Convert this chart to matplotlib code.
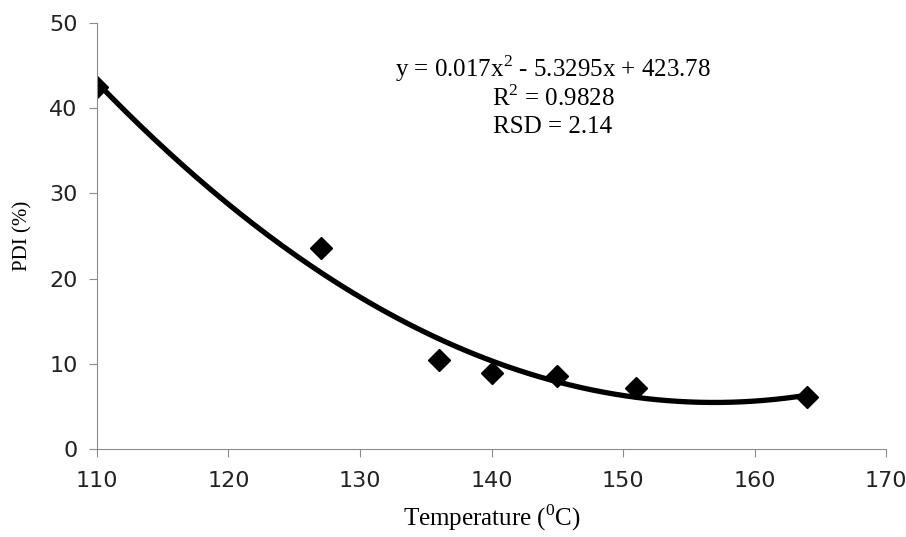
import matplotlib
matplotlib.use("Agg")
import matplotlib.pyplot as plt
import numpy as np

plt.rcParams["mathtext.fontset"] = "custom"
plt.rcParams["mathtext.rm"] = "Liberation Serif"

# data
temperature = [110, 127, 136, 140, 145, 151, 164]
pdi = [42.5, 23.6, 10.4, 8.9, 8.6, 7.2, 6.1]

x_ticks = [110, 120, 130, 140, 150, 160, 170]
y_ticks = [0, 10, 20, 30, 40, 50]

eq_lines = [
    r"y = 0.017x$^2$ - 5.3295x + 423.78",
    r"R$^2$ = 0.9828",
    "RSD = 2.14",
]

# second order polynomial trendline, as the spreadsheet does it
coef = np.polyfit(temperature, pdi, 2)
xs = np.linspace(min(temperature), max(temperature), 200)
ys = np.polyval(coef, xs)

fig = plt.figure(figsize=(9.06, 5.37), dpi=100)
ax = fig.add_axes([0.107, 0.164, 0.871, 0.793])

ax.plot(xs, ys, color="black", lw=3.8, solid_capstyle="butt")
ax.plot(temperature, pdi, "D", color="black", ms=11.5, ls="none")

ax.set_xlim(110, 170)
ax.set_ylim(0, 50)
ax.set_xticks(x_ticks)
ax.set_yticks(y_ticks)

for side in ("top", "right"):
    ax.spines[side].set_visible(False)
for side in ("left", "bottom"):
    ax.spines[side].set_color("#8c8c8c")
ax.tick_params(direction="out", length=6, color="#8c8c8c", labelsize=16,
               pad=8, labelcolor="#222222")
ax.tick_params(axis="x", pad=10)

ax.set_xlabel(r"Temperature ($^0$C)", family="Liberation Serif", fontsize=18, labelpad=8)
ax.set_ylabel("PDI (%)", family="Liberation Serif", fontsize=15, labelpad=12)

for i, line in enumerate(eq_lines):
    ax.text(0.578, 0.893 - i * 0.069, line, transform=ax.transAxes, ha="center",
            va="center", family="Liberation Serif", fontsize=18)

fig.savefig("out.png", dpi=100)
